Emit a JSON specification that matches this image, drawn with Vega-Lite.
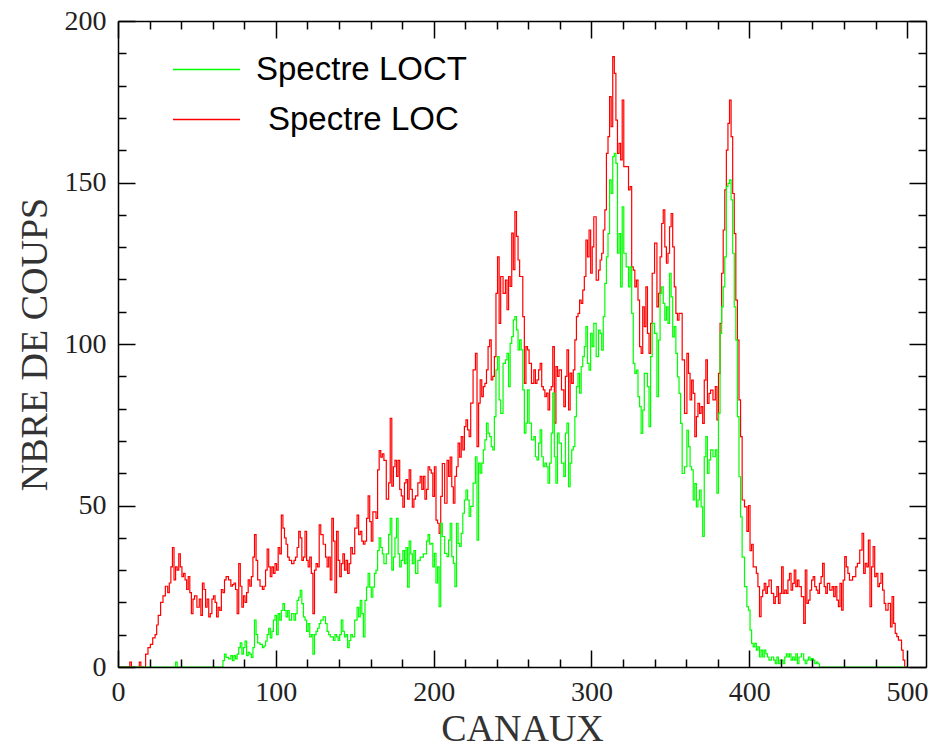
{
"$schema": "https://vega.github.io/schema/vega-lite/v6.json",
"width": 808, "height": 646,
"autosize": "none",
"padding": {"left": 118, "top": 21, "right": 6, "bottom": 82},
"background": "white",
"config": {
  "view": {"stroke": null},
  "axis": {"grid": false, "domainColor": "#000", "domainWidth": 1.5, "tickColor": "#000", "tickWidth": 1.5,
    "labelFont": "Liberation Serif", "labelFontSize": 28, "labelColor": "#222", "labelFlush": false,
    "titleFont": "Liberation Serif", "titleFontSize": 38, "titleFontWeight": "normal", "titleColor": "#333", "zindex": 1}
},
"data": {"values": [
{"c":0,"g":0,"r":0},{"c":4,"g":0,"r":0},{"c":7,"g":0,"r":0},{"c":8,"g":0,"r":1.5},{"c":9,"g":0,"r":0},{"c":13,"g":0,"r":0},{"c":14,"g":0,"r":1.5},{"c":15,"g":0,"r":0},{"c":17,"g":0,"r":0},{"c":18,"g":0,"r":4},{"c":20,"g":0,"r":6},{"c":21,"g":0,"r":7},{"c":23,"g":0,"r":9},{"c":24,"g":0,"r":10},{"c":25,"g":0,"r":13},{"c":26,"g":0,"r":16},{"c":28,"g":0,"r":20},{"c":29,"g":0,"r":22},{"c":31,"g":0,"r":25},{"c":32,"g":0,"r":23},{"c":33,"g":0,"r":26},{"c":34,"g":0,"r":31},{"c":35,"g":0,"r":37},{"c":36,"g":0,"r":27},{"c":37,"g":1.5,"r":31},{"c":38,"g":0,"r":30},{"c":39,"g":0,"r":35},{"c":40,"g":0,"r":31},{"c":41,"g":0,"r":28},{"c":42,"g":0,"r":29},{"c":43,"g":0,"r":27},{"c":44,"g":0,"r":24},{"c":45,"g":0,"r":28},{"c":46,"g":0,"r":23},{"c":47,"g":0,"r":16.5},{"c":48,"g":0,"r":21},{"c":49,"g":0,"r":22},{"c":51,"g":0,"r":18.5},{"c":52,"g":0,"r":21},{"c":53,"g":0,"r":16},{"c":54,"g":0,"r":26},{"c":55,"g":0,"r":24},{"c":56,"g":0,"r":18.5},{"c":57,"g":0,"r":21},{"c":58,"g":0,"r":15.5},{"c":59,"g":0,"r":16.5},{"c":60,"g":0,"r":21},{"c":61,"g":0,"r":22},{"c":62,"g":0,"r":20},{"c":63,"g":0,"r":15.5},{"c":64,"g":0,"r":18.5},{"c":65,"g":0,"r":17.5},{"c":66,"g":0,"r":24},{"c":67,"g":2,"r":23},{"c":68,"g":4,"r":27},{"c":69,"g":3,"r":28},{"c":71,"g":2.5,"r":27},{"c":72,"g":3.5,"r":25},{"c":73,"g":2,"r":25.5},{"c":74,"g":3.5,"r":26},{"c":75,"g":2.5,"r":24},{"c":76,"g":4,"r":16.5},{"c":77,"g":6,"r":32},{"c":78,"g":7.5,"r":25},{"c":79,"g":4,"r":18.5},{"c":80,"g":6,"r":22},{"c":81,"g":8,"r":20},{"c":82,"g":3.5,"r":23},{"c":83,"g":4.5,"r":27},{"c":84,"g":4,"r":25},{"c":85,"g":3,"r":28},{"c":86,"g":6,"r":34},{"c":87,"g":14.5,"r":41},{"c":88,"g":10,"r":33},{"c":89,"g":7.5,"r":27},{"c":91,"g":7,"r":25},{"c":92,"g":6,"r":24},{"c":93,"g":6.5,"r":25},{"c":94,"g":8,"r":30},{"c":95,"g":10,"r":36.5},{"c":96,"g":12,"r":31},{"c":97,"g":9,"r":28},{"c":98,"g":11,"r":31},{"c":99,"g":14.5,"r":29},{"c":100,"g":16,"r":32},
{"c":101,"g":10,"r":30},{"c":102,"g":16.5,"r":37},{"c":103,"g":14.5,"r":35},{"c":104,"g":17.5,"r":47},{"c":105,"g":19.6,"r":43},{"c":106,"g":17.5,"r":40},{"c":107,"g":15.5,"r":38},{"c":108,"g":17.5,"r":34},{"c":109,"g":14.5,"r":33},{"c":111,"g":16.5,"r":32},{"c":112,"g":14.5,"r":33},{"c":113,"g":16.5,"r":34},{"c":114,"g":20.6,"r":37},{"c":115,"g":21.6,"r":42},{"c":116,"g":23.7,"r":40},{"c":117,"g":19.6,"r":33},{"c":118,"g":15.5,"r":34},{"c":119,"g":14.5,"r":42},{"c":120,"g":11,"r":33},{"c":121,"g":13.4,"r":31},{"c":122,"g":9.3,"r":34},{"c":123,"g":10,"r":29},{"c":124,"g":4,"r":16.5},{"c":125,"g":10,"r":30},{"c":126,"g":11,"r":32},{"c":127,"g":12,"r":31},{"c":128,"g":13.4,"r":44},{"c":129,"g":14.5,"r":41},{"c":131,"g":15.5,"r":38},{"c":132,"g":13.4,"r":34},{"c":133,"g":11,"r":31},{"c":134,"g":10,"r":34},{"c":135,"g":9.3,"r":27},{"c":136,"g":9.3,"r":46},{"c":137,"g":8.2,"r":39},{"c":138,"g":10,"r":23},{"c":139,"g":9.3,"r":42},{"c":140,"g":8.2,"r":33},{"c":141,"g":10,"r":28},{"c":142,"g":14.5,"r":32},{"c":143,"g":11,"r":35},{"c":144,"g":9.3,"r":30},{"c":145,"g":10,"r":33},{"c":146,"g":6,"r":29},{"c":147,"g":8.2,"r":32},{"c":148,"g":10,"r":37},{"c":149,"g":9.3,"r":35},{"c":151,"g":14.5,"r":43},{"c":152,"g":18.5,"r":47},{"c":153,"g":15.5,"r":41},{"c":154,"g":20.6,"r":42},{"c":155,"g":16.5,"r":39},{"c":156,"g":9.3,"r":38},{"c":157,"g":20.6,"r":39},{"c":158,"g":24.7,"r":46},{"c":159,"g":29,"r":53},{"c":160,"g":24.7,"r":45},{"c":161,"g":21.6,"r":39},{"c":162,"g":24.7,"r":48},{"c":163,"g":29,"r":48},{"c":164,"g":30,"r":46},{"c":165,"g":36,"r":61},{"c":166,"g":40,"r":67},{"c":167,"g":37,"r":65},{"c":168,"g":35,"r":66},{"c":169,"g":32,"r":64},{"c":171,"g":35,"r":52},{"c":172,"g":41,"r":57},{"c":173,"g":46,"r":77},{"c":174,"g":30,"r":56},{"c":175,"g":34,"r":62},{"c":176,"g":40,"r":64},{"c":177,"g":46,"r":59},{"c":178,"g":35,"r":64},{"c":179,"g":31,"r":55},{"c":180,"g":33,"r":53},{"c":181,"g":36,"r":49.5},{"c":182,"g":32,"r":57},{"c":183,"g":37,"r":58},{"c":184,"g":24.7,"r":52},{"c":185,"g":39,"r":61},{"c":186,"g":35,"r":55},{"c":187,"g":32,"r":49.5},{"c":188,"g":36,"r":52},{"c":189,"g":29,"r":53},{"c":191,"g":33,"r":57},{"c":192,"g":34,"r":59},{"c":193,"g":34,"r":55},{"c":194,"g":35,"r":59},{"c":195,"g":35,"r":52},{"c":196,"g":39,"r":55},{"c":197,"g":41,"r":62},{"c":198,"g":38,"r":61},
{"c":199,"g":38.3,"r":60},{"c":200,"g":31,"r":52.8},{"c":201,"g":35.2,"r":62},{"c":202,"g":26,"r":45.5},{"c":203,"g":31,"r":44.5},{"c":204,"g":18.7,"r":41.4},{"c":205,"g":44.5,"r":52.8},{"c":206,"g":40.4,"r":63},{"c":208,"g":35.2,"r":50.7},{"c":209,"g":34.2,"r":64},{"c":210,"g":39.3,"r":59},{"c":211,"g":44.5,"r":65},{"c":212,"g":34.2,"r":55.8},{"c":213,"g":32.1,"r":50.7},{"c":214,"g":24.9,"r":59},{"c":215,"g":44.5,"r":62},{"c":216,"g":38.3,"r":69.3},{"c":217,"g":37.3,"r":65},{"c":218,"g":41.4,"r":71.3},{"c":219,"g":47.6,"r":67.2},{"c":220,"g":51.7,"r":74.4},{"c":221,"g":54.8,"r":76.5},{"c":222,"g":51.7,"r":73.4},{"c":223,"g":46.6,"r":71.3},{"c":224,"g":49.7,"r":81.7},{"c":226,"g":56.9,"r":92},{"c":227,"g":65.1,"r":97.1},{"c":228,"g":39.3,"r":68.2},{"c":229,"g":63.1,"r":81.7},{"c":230,"g":60,"r":88.9},{"c":231,"g":63.1,"r":83.7},{"c":232,"g":67.2,"r":86.8},{"c":233,"g":70.3,"r":87.8},{"c":234,"g":75.5,"r":92},{"c":235,"g":72.4,"r":99.2},{"c":236,"g":71.3,"r":101.3},{"c":237,"g":68.2,"r":88.9},{"c":238,"g":67.2,"r":90},{"c":239,"g":77.5,"r":96.1},{"c":240,"g":92,"r":115.7},{"c":241,"g":96.1,"r":127},{"c":242,"g":82.7,"r":106.4},{"c":243,"g":78.5,"r":120.9},{"c":245,"g":94,"r":115.7},{"c":246,"g":95.1,"r":119.8},{"c":247,"g":97.1,"r":110.6},{"c":248,"g":86.8,"r":120.9},{"c":249,"g":100.2,"r":117.8},{"c":250,"g":102.3,"r":134.3},{"c":251,"g":107.5,"r":123},{"c":252,"g":108.5,"r":141},{"c":253,"g":104.4,"r":133.3},{"c":254,"g":98.2,"r":126},{"c":255,"g":101.3,"r":120.9},{"c":256,"g":98.2,"r":120.9},{"c":257,"g":85.8,"r":108.5},{"c":258,"g":72.4,"r":87.8},{"c":259,"g":75.5,"r":99.2},{"c":260,"g":85.8,"r":98.2},{"c":261,"g":75.5,"r":94},{"c":263,"g":70.3,"r":87.8},{"c":264,"g":71.3,"r":92},{"c":265,"g":65.1,"r":87.8},{"c":266,"g":64.1,"r":88.9},{"c":267,"g":69.3,"r":92},{"c":268,"g":73.4,"r":94},{"c":269,"g":65.1,"r":86.8},{"c":270,"g":62,"r":85.8},{"c":271,"g":63.1,"r":83.7},{"c":272,"g":62,"r":84.8},{"c":273,"g":56.9,"r":79.6},{"c":274,"g":63.1,"r":85.8},{"c":275,"g":72.4,"r":86.8},{"c":276,"g":84.8,"r":99.2},{"c":277,"g":65.1,"r":75.5},{"c":278,"g":56.9,"r":93},{"c":279,"g":72.4,"r":90},{"c":280,"g":69.3,"r":92},{"c":282,"g":63.1,"r":85.8},{"c":283,"g":59,"r":80.6},{"c":284,"g":72.4,"r":90},{"c":285,"g":75.5,"r":98.2},{"c":286,"g":55.8,"r":79.6},{"c":287,"g":63.1,"r":91},{"c":288,"g":67.2,"r":87.8},{"c":289,"g":68.2,"r":92},{"c":290,"g":77.5,"r":101.3},{"c":291,"g":86.8,"r":108.5},{"c":292,"g":90.9,"r":109.5},{"c":293,"g":84.8,"r":113.6},{"c":294,"g":93,"r":112.6},{"c":295,"g":96.1,"r":116.7},{"c":296,"g":99.2,"r":120.9},{"c":297,"g":105.4,"r":132.2},{"c":298,"g":94,"r":127},
{"c":299,"g":91.9,"r":135.3},{"c":300,"g":103.3,"r":121.9},{"c":301,"g":99.2,"r":130.1},{"c":302,"g":106.4,"r":139.4},{"c":304,"g":96.1,"r":119.8},{"c":305,"g":104.3,"r":122.9},{"c":306,"g":103.3,"r":126},{"c":307,"g":98.1,"r":128.1},{"c":308,"g":108.5,"r":135.3},{"c":309,"g":118.8,"r":141.5},{"c":310,"g":127,"r":159},{"c":311,"g":134.2,"r":164.2},{"c":312,"g":150.8,"r":176.6},{"c":313,"g":146.6,"r":167.3},{"c":314,"g":158,"r":189},{"c":315,"g":159,"r":183.8},{"c":316,"g":155.9,"r":169.3},{"c":317,"g":128.1,"r":159},{"c":318,"g":134.2,"r":162.1},{"c":319,"g":117.7,"r":157},{"c":320,"g":142.5,"r":175.5},{"c":321,"g":128.1,"r":154.9},{"c":323,"g":123.9,"r":154.9},{"c":324,"g":117.7,"r":147.7},{"c":325,"g":123.9,"r":148.7},{"c":326,"g":109.5,"r":123.9},{"c":327,"g":94,"r":122.9},{"c":328,"g":90.9,"r":117.7},{"c":329,"g":91.9,"r":119.8},{"c":330,"g":83.7,"r":113.6},{"c":331,"g":80.6,"r":99.2},{"c":332,"g":72.3,"r":97.1},{"c":333,"g":79.5,"r":111.5},{"c":334,"g":90.9,"r":105.4},{"c":335,"g":90.9,"r":117.7},{"c":336,"g":86.8,"r":103.3},{"c":337,"g":74.4,"r":97.1},{"c":338,"g":96.1,"r":106.4},{"c":339,"g":106.4,"r":121.9},{"c":341,"g":103.3,"r":131.2},{"c":342,"g":83.7,"r":111.5},{"c":343,"g":101.2,"r":115.7},{"c":344,"g":115.7,"r":127},{"c":345,"g":117.7,"r":137.3},{"c":346,"g":112.6,"r":141.5},{"c":347,"g":107.4,"r":130.1},{"c":348,"g":111.5,"r":125},{"c":349,"g":106.4,"r":128.1},{"c":350,"g":121.9,"r":136.3},{"c":351,"g":114.6,"r":140.4},{"c":352,"g":102.2,"r":130.1},{"c":353,"g":105.4,"r":117.7},{"c":354,"g":97.1,"r":109.5},{"c":355,"g":89.8,"r":107.4},{"c":356,"g":84.7,"r":109.5},{"c":357,"g":75.4,"r":109.5},{"c":358,"g":59.9,"r":95.1},{"c":360,"g":62,"r":78.5},{"c":361,"g":73.3,"r":97.1},{"c":362,"g":68.2,"r":90.9},{"c":363,"g":62,"r":82.7},{"c":364,"g":61,"r":88.8},{"c":365,"g":51.7,"r":84.7},{"c":366,"g":56.8,"r":71.3},{"c":367,"g":49.6,"r":77.5},{"c":368,"g":51.7,"r":81.6},{"c":369,"g":54.8,"r":78.5},{"c":370,"g":49.6,"r":80.6},{"c":371,"g":40.4,"r":75.4},{"c":372,"g":65.1,"r":88.8},{"c":373,"g":71.3,"r":95.1},{"c":374,"g":59.9,"r":81.6},{"c":375,"g":64.1,"r":84.7},{"c":376,"g":67.2,"r":85.7},{"c":378,"g":65.1,"r":82.7},{"c":379,"g":67.2,"r":86.8},{"c":380,"g":53.8,"r":76.5},{"c":381,"g":78.5,"r":90.9},{"c":382,"g":103.3,"r":106.4},{"c":383,"g":111.5,"r":121.9},{"c":384,"g":117.7,"r":135.3},{"c":385,"g":127,"r":147.7},{"c":386,"g":148.7,"r":160},{"c":387,"g":149.7,"r":168.3},{"c":388,"g":150.8,"r":175.5},{"c":389,"g":144.6,"r":164.2},{"c":390,"g":128.1,"r":146.6},{"c":391,"g":111.5,"r":134.2},{"c":392,"g":101.2,"r":113.6},{"c":393,"g":77.5,"r":101.2},{"c":394,"g":58.9,"r":82.7},{"c":395,"g":46.5,"r":71.3},{"c":396,"g":34,"r":51.7},
{"c":398,"g":24.9,"r":49.6},{"c":399,"g":18.7,"r":42},{"c":400,"g":17.6,"r":50},{"c":401,"g":11.4,"r":36},{"c":402,"g":7.3,"r":38},{"c":403,"g":6.2,"r":31},{"c":404,"g":7.3,"r":31},{"c":405,"g":5.2,"r":29},{"c":406,"g":6.2,"r":24.9},{"c":407,"g":3.1,"r":15.6},{"c":408,"g":5.2,"r":21.8},{"c":409,"g":3.1,"r":23.8},{"c":410,"g":5.2,"r":25.9},{"c":411,"g":4.1,"r":22.8},{"c":412,"g":3.1,"r":24.9},{"c":413,"g":2.1,"r":26.9},{"c":415,"g":3.1,"r":22.8},{"c":416,"g":2.1,"r":19.7},{"c":417,"g":1,"r":21.8},{"c":418,"g":3.1,"r":24.9},{"c":419,"g":1,"r":19.7},{"c":420,"g":2.1,"r":22.8},{"c":421,"g":2.1,"r":31},{"c":422,"g":1,"r":22.8},{"c":423,"g":3.1,"r":23.8},{"c":424,"g":4.1,"r":22.8},{"c":425,"g":3.1,"r":26.9},{"c":426,"g":4.1,"r":29},{"c":427,"g":2.1,"r":23.8},{"c":428,"g":3.1,"r":25.9},{"c":429,"g":2.1,"r":30},{"c":430,"g":4.1,"r":24.9},{"c":431,"g":1,"r":26.9},{"c":432,"g":3.1,"r":24.9},{"c":434,"g":4.1,"r":21.8},{"c":435,"g":2.1,"r":13.5},{"c":436,"g":1,"r":30},{"c":437,"g":2.1,"r":19.7},{"c":438,"g":3.1,"r":20.7},{"c":439,"g":2.1,"r":23.8},{"c":440,"g":2.6,"r":26.9},{"c":441,"g":2.1,"r":28},{"c":442,"g":1,"r":24.9},{"c":443,"g":1.5,"r":23.8},{"c":444,"g":1,"r":22.8},{"c":445,"g":0,"r":25.9},{"c":446,"g":0,"r":28},{"c":447,"g":0,"r":32.1},{"c":448,"g":0,"r":24.9},{"c":449,"g":0,"r":22.8},{"c":450,"g":0,"r":25.9},{"c":452,"g":0,"r":23.8},{"c":453,"g":0,"r":24.9},{"c":454,"g":0,"r":21.8},{"c":455,"g":0,"r":24.9},{"c":456,"g":0,"r":20.7},{"c":457,"g":0,"r":18.7},{"c":458,"g":0,"r":25.9},{"c":459,"g":0,"r":17.6},{"c":460,"g":0,"r":26.9},{"c":461,"g":0,"r":34.2},{"c":462,"g":0,"r":31},{"c":463,"g":0,"r":29},{"c":464,"g":0,"r":26.9},{"c":465,"g":0,"r":26.9},{"c":466,"g":0,"r":28},{"c":467,"g":0,"r":28},{"c":468,"g":0,"r":31},{"c":469,"g":0,"r":32.1},{"c":471,"g":0,"r":36.2},{"c":472,"g":0,"r":41.4},{"c":473,"g":0,"r":29},{"c":474,"g":0,"r":32.1},{"c":475,"g":0,"r":31},{"c":476,"g":0,"r":39.3},{"c":477,"g":0,"r":18.7},{"c":478,"g":0,"r":31},{"c":479,"g":0,"r":37.3},{"c":480,"g":0,"r":28},{"c":481,"g":0,"r":29},{"c":482,"g":0,"r":24.9},{"c":483,"g":0,"r":25.9},{"c":484,"g":0,"r":29},{"c":485,"g":0,"r":23.8},{"c":486,"g":0,"r":19.7},{"c":487,"g":0,"r":17.6},{"c":489,"g":0,"r":19.7},{"c":490,"g":0,"r":12.4},{"c":491,"g":0,"r":21.8},{"c":492,"g":0,"r":13.5},{"c":493,"g":0,"r":10.4},{"c":494,"g":0,"r":9.4},{"c":495,"g":0,"r":8.3},{"c":496,"g":0,"r":8.3},{"c":497,"g":0,"r":5.2},{"c":498,"g":0,"r":2.1},{"c":499,"g":0,"r":0},{"c":500,"g":0,"r":0}
]},
"layer": [
  {"mark": {"type": "point", "opacity": 0},
   "encoding": {
     "x": {"field": "c", "type": "quantitative", "scale": {"domain": [0, 512], "nice": false, "zero": false},
       "axis": {"orient": "bottom", "zindex": 2, "values": [20,40,60,80,120,140,160,180,220,240,260,280,320,340,360,380,420,440,460,480], "labels": false, "domain": false, "tickSize": -8, "title": null}},
     "y": {"field": "r", "type": "quantitative", "scale": {"domain": [0, 200], "nice": false},
       "axis": {"orient": "left", "zindex": 2, "values": [10,20,30,40,60,70,80,90,110,120,130,140,160,170,180,190], "labels": false, "domain": false, "tickSize": -8, "title": null}}
   }},
  {"mark": {"type": "point", "opacity": 0},
   "encoding": {
     "x": {"field": "c", "type": "quantitative",
       "axis": {"orient": "top", "zindex": 2, "values": [20,40,60,80,120,140,160,180,220,240,260,280,320,340,360,380,420,440,460,480], "labels": false, "domain": false, "tickSize": -8, "title": null}},
     "y": {"field": "r", "type": "quantitative",
       "axis": {"orient": "right", "zindex": 2, "values": [10,20,30,40,60,70,80,90,110,120,130,140,160,170,180,190], "labels": false, "domain": false, "tickSize": -8, "title": null}}
   }},
  {"mark": {"type": "line", "interpolate": "step", "strokeWidth": 1.2},
   "encoding": {
     "x": {"field": "c", "type": "quantitative",
       "axis": {"orient": "top", "zindex": 2, "values": [0,100,200,300,400,500], "labels": false, "tickSize": -17, "title": null}},
     "y": {"field": "r", "type": "quantitative",
       "axis": {"orient": "right", "zindex": 2, "values": [0,50,100,150,200], "labels": false, "tickSize": -17, "title": null}},
     "stroke": {"datum": "Spectre LOC", "type": "nominal",
       "scale": {"domain": ["Spectre LOC"], "range": ["#ff0000"]},
       "legend": {"title": null, "orient": "none", "legendX": 54, "legendY": 64, "padding": 0,
         "symbolType": "stroke", "symbolSize": 4489, "symbolStrokeWidth": 1.5,
         "labelFont": "Liberation Sans", "labelFontSize": 33, "labelColor": "#000", "labelOffset": 27, "labelLimit": 0}}
   }},
  {"mark": {"type": "line", "interpolate": "step", "strokeWidth": 1.2},
   "encoding": {
     "x": {"field": "c", "type": "quantitative",
       "axis": {"orient": "bottom", "zindex": 2, "values": [0,100,200,300,400,500], "tickSize": -17, "labelPadding": 28, "labelFlush": false, "title": "CANAUX", "titlePadding": 4}},
     "y": {"field": "g", "type": "quantitative",
       "axis": {"orient": "left", "zindex": 2, "values": [0,50,100,150,200], "tickSize": -17, "labelPadding": 29, "labelFlush": false, "title": "NBRE DE COUPS", "titlePadding": 10}},
     "color": {"datum": "Spectre LOCT", "type": "nominal",
       "scale": {"domain": ["Spectre LOCT"], "range": ["#00ff00"]},
       "legend": {"title": null, "orient": "none", "legendX": 54, "legendY": 14, "padding": 0,
         "symbolType": "stroke", "symbolSize": 4489, "symbolStrokeWidth": 1.5,
         "labelFont": "Liberation Sans", "labelFontSize": 33, "labelColor": "#000", "labelOffset": 15, "labelLimit": 0}}
   }}
],
"resolve": {"axis": {"x": "independent", "y": "independent"}}
}
